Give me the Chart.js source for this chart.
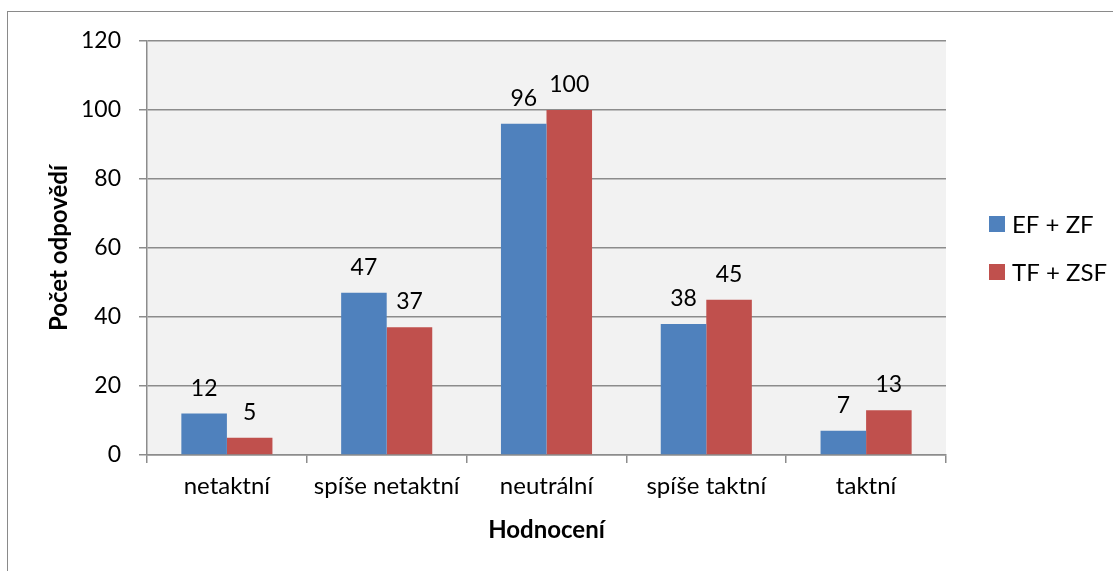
<!DOCTYPE html>
<html>
<head>
<meta charset="utf-8">
<script src="https://cdn.jsdelivr.net/npm/chart.js@4/dist/chart.umd.min.js"></script>
<style>
  html, body { margin: 0; padding: 0; overflow: hidden; background: #fff; }
  #wrap { position: relative; width: 1113px; height: 571px; }
  #frame { position: absolute; left: 7px; top: 11px; width: 2000px; height: 2000px;
           border-left: 1.5px solid #8a8a8a; border-top: 1.5px solid #8a8a8a; }
  canvas { position: absolute; left: 0; top: 0; }
</style>
</head>
<body>
<div id="wrap">
  <div id="frame"></div>
  <canvas id="chart" width="1113" height="571"></canvas>
</div>
<script>
const categories = ['netaktní', 'spíše netaktní', 'neutrální', 'spíše taktní', 'taktní'];
const seriesNames = ['EF + ZF', 'TF + ZSF'];
const efZf = [12, 47, 96, 38, 7];
const tfZsf = [5, 37, 100, 45, 13];
const yTicks = [0, 20, 40, 60, 80, 100, 120];

const FONT = 'Lato, Carlito, Calibri, sans-serif';
const gridColor = '#8c8c8c';

// grey plot area behind bars
const plotBg = {
    id: 'plotBg',
    beforeDraw(chart) {
        const { ctx, chartArea: a } = chart;
        ctx.save();
        ctx.fillStyle = '#f2f2f2';
        ctx.fillRect(a.left, a.top, a.right - a.left, a.bottom - a.top);
        ctx.restore();
    }
};

// value labels above each bar
const valueLabels = {
    id: 'valueLabels',
    afterDatasetsDraw(chart) {
        const ctx = chart.ctx;
        ctx.save();
        ctx.font = '23px ' + FONT;
        ctx.fillStyle = '#000';
        ctx.textAlign = 'center';
        ctx.textBaseline = 'alphabetic';
        chart.data.datasets.forEach((ds, i) => {
            chart.getDatasetMeta(i).data.forEach((bar, j) => {
                ctx.fillText(ds.data[j], bar.x, bar.y - 18);
            });
        });
        ctx.restore();
    }
};

// legend on the right, like the office one
const sideLegend = {
    id: 'sideLegend',
    afterDraw(chart) {
        const { ctx, chartArea: a } = chart;
        const x = a.right + 43;
        const midY = (a.top + a.bottom) / 2;
        const gap = 48;
        ctx.save();
        ctx.font = '24px ' + FONT;
        ctx.textBaseline = 'middle';
        ctx.textAlign = 'left';
        chart.data.datasets.forEach((ds, i) => {
            const y = midY - gap / 2 + i * gap;
            ctx.fillStyle = ds.backgroundColor;
            ctx.fillRect(x, y - 8, 16, 16);
            ctx.fillStyle = '#000';
            ctx.fillText(ds.label, x + 23, y + 1);
        });
        ctx.restore();
    }
};

new Chart(document.getElementById('chart'), {
    type: 'bar',
    data: {
        labels: categories,
        datasets: [
            { label: seriesNames[0], data: efZf, backgroundColor: '#4f81bd' },
            { label: seriesNames[1], data: tfZsf, backgroundColor: '#c0504d' }
        ]
    },
    options: {
        responsive: false,
        animation: false,
        events: [],
        categoryPercentage: 0.57,
        barPercentage: 1.0,
        layout: { padding: { left: 0, top: 41, right: 167, bottom: 0 } },
        plugins: {
            legend: { display: false },
            tooltip: { enabled: false }
        },
        scales: {
            x: {
                grid: { offset: true, drawOnChartArea: false, drawTicks: true, tickLength: 8,
                        color: gridColor, lineWidth: 1.5 },
                border: { display: true, color: gridColor, width: 1.5 },
                ticks: { color: '#000', font: { family: FONT, size: 24 }, padding: 9 },
                title: { display: true, text: 'Hodnocení', color: '#000',
                         font: { family: FONT, size: 24, weight: 'bold' }, padding: { top: 0, bottom: 26 } },
                afterFit(scale) { scale.height = 116; }
            },
            y: {
                min: 0, max: 120,
                afterBuildTicks(scale) { scale.ticks = yTicks.map(v => ({ value: v })); },
                grid: { drawTicks: true, tickLength: 8, color: gridColor, lineWidth: 1.5 },
                border: { display: true, color: gridColor, width: 1.5 },
                ticks: { color: '#000', font: { family: FONT, size: 23 }, padding: 18 },
                title: { display: true, text: 'Počet odpovědí', color: '#000',
                         font: { family: FONT, size: 24, weight: 'bold' }, padding: { top: 45, bottom: 0 } },
                afterFit(scale) { scale.width = 147; }
            }
        }
    },
    plugins: [plotBg, valueLabels, sideLegend]
});
</script>
</body>
</html>
